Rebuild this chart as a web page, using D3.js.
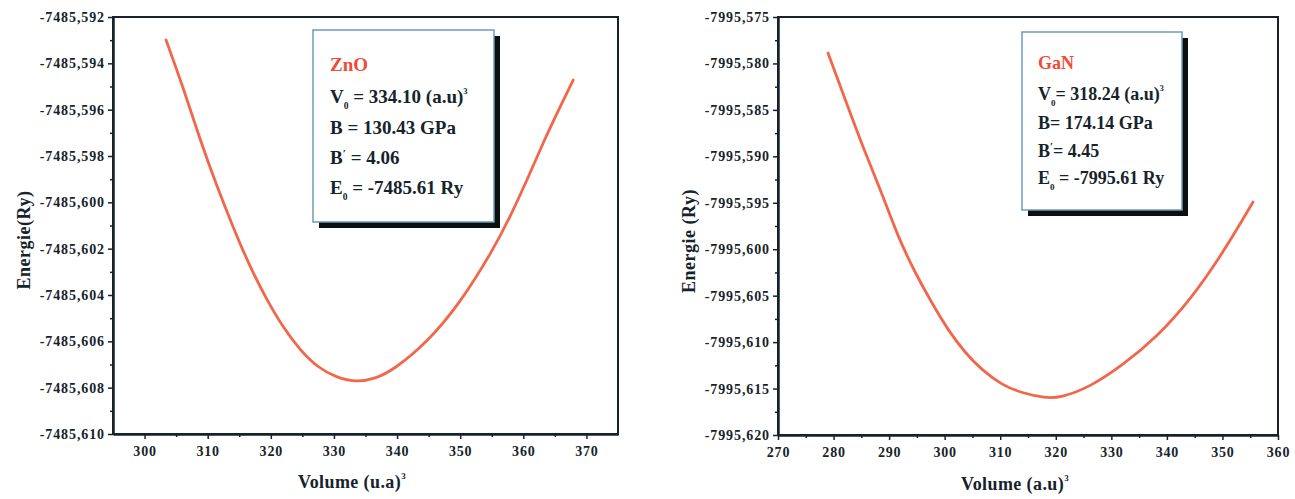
<!DOCTYPE html>
<html>
<head>
<meta charset="utf-8">
<script src="https://cdn.jsdelivr.net/npm/d3@7"></script>
<style>
  html, body { margin: 0; padding: 0; background: #fff; }
  svg { display: block; }
  text { font-family: "Liberation Serif", "DejaVu Serif", serif; font-weight: bold; }
</style>
</head>
<body>
<div id="chart"></div>
<script>
// E(V) curves for ZnO and GaN
const znoVolume = [303.4, 306.1, 308.8, 311.5, 314.0, 316.7, 319.4, 321.9, 324.6, 327.3, 330.5, 333.7, 336.5,
  339.4, 344.7, 350.0, 355.2, 357.9, 360.6, 363.1, 365.8, 367.9];
const znoEnergy = [-7485.59299, -7485.59502, -7485.59731, -7485.59934, -7485.60106, -7485.60279, -7485.60422,
  -7485.60538, -7485.60637, -7485.60711, -7485.60758, -7485.60776, -7485.60762, -7485.60724, -7485.60607,
  -7485.60435, -7485.60206, -7485.60063, -7485.59904, -7485.59744, -7485.59589, -7485.59472];

const ganVolume = [279.0, 282.6, 285.7, 288.7, 291.6, 294.7, 297.7, 300.6, 303.7, 306.7, 310.3, 313.9, 318.1,
  320.8, 326.2, 332.1, 338.2, 344.2, 350.1, 355.5];
const ganEnergy = [-7995.57888, -7995.58469, -7995.58964, -7995.59395, -7995.59868, -7995.60256, -7995.60579,
  -7995.60870, -7995.61117, -7995.61300, -7995.61462, -7995.61548, -7995.61602, -7995.61600, -7995.61483,
  -7995.61246, -7995.60945, -7995.60547, -7995.60041, -7995.59492];

const znoXTicks = [300, 310, 320, 330, 340, 350, 360, 370];
const znoYTicks = [-7485.610, -7485.608, -7485.606, -7485.604, -7485.602, -7485.600, -7485.598, -7485.596,
  -7485.594, -7485.592];
const ganXTicks = [270, 280, 290, 300, 310, 320, 330, 340, 350, 360];
const ganYTicks = [-7995.620, -7995.615, -7995.610, -7995.605, -7995.600, -7995.595, -7995.590, -7995.585,
  -7995.580, -7995.575];

const znoLegend = ["ZnO", "334.10", "130.43", "4.06", "-7485.61"];
const ganLegend = ["GaN", "318.24", "174.14", "4.45", "-7995.61"];

const width = 1295;
const height = 499;
const curveColor = "#f2674c";
const ink = "#16232b";
const serif = "Liberation Serif, DejaVu Serif, serif";

const svg = d3.select("#chart").append("svg")
  .attr("width", width)
  .attr("height", height);

const fmtY = (d) => d.toFixed(3).replace(".", ",");

const panels = [
  {
    box: { x0: 113, x1: 618, y0: 17, y1: 434 },
    xDomain: [295, 375], yDomain: [-7485.610, -7485.592],
    xTicks: znoXTicks, yTicks: znoYTicks,
    points: znoVolume.map((v, i) => [v, znoEnergy[i]]),
    yLabel: "Energie(Ry)", yLabelPos: [30, 240],
    xLabel: "Volume (u.a)", xLabelPos: [352, 488],
    legend: znoLegend, sep: " = ",
    legendBox: { x: 313, y: 30, w: 181, h: 192 }, textX: 330,
    lines: [71, 103, 134, 164, 194], fontSize: 19,
  },
  {
    box: { x0: 778, x1: 1278, y0: 17, y1: 435 },
    xDomain: [270, 360], yDomain: [-7995.620, -7995.575],
    xTicks: ganXTicks, yTicks: ganYTicks,
    points: ganVolume.map((v, i) => [v, ganEnergy[i]]),
    yLabel: "Energie (Ry)", yLabelPos: [695, 241],
    xLabel: "Volume (a.u)", xLabelPos: [1015, 490],
    legend: ganLegend, sep: "= ",
    legendBox: { x: 1022, y: 32, w: 160, h: 178 }, textX: 1038,
    lines: [69, 100, 129, 157, 184], fontSize: 18,
  },
];

panels.forEach((p) => {
  const x = d3.scaleLinear().domain(p.xDomain).range([p.box.x0, p.box.x1]);
  const y = d3.scaleLinear().domain(p.yDomain).range([p.box.y1, p.box.y0]);
  const g = svg.append("g");

  // frame
  g.append("rect")
    .attr("x", p.box.x0).attr("y", p.box.y0)
    .attr("width", p.box.x1 - p.box.x0).attr("height", p.box.y1 - p.box.y0)
    .attr("fill", "#fff").attr("stroke", ink).attr("stroke-width", 2);

  // minor ticks
  const xStep = p.xTicks[1] - p.xTicks[0];
  const yStep = p.yTicks[1] - p.yTicks[0];
  const xMinor = p.xTicks.map((t) => t + xStep / 2).filter((t) => t < p.xDomain[1]);
  if (p.xTicks[0] - xStep / 2 > p.xDomain[0]) xMinor.unshift(p.xTicks[0] - xStep / 2);
  const yMinor = p.yTicks.slice(0, -1).map((t) => t + yStep / 2);

  g.append("g").attr("transform", `translate(0,${p.box.y1})`)
    .call(d3.axisBottom(x).tickValues(xMinor).tickSize(3).tickFormat(""))
    .call((a) => a.select(".domain").remove())
    .selectAll("line").attr("stroke", ink).attr("stroke-width", 1.5);
  g.append("g").attr("transform", `translate(${p.box.x0},0)`)
    .call(d3.axisLeft(y).tickValues(yMinor).tickSize(3).tickFormat(""))
    .call((a) => a.select(".domain").remove())
    .selectAll("line").attr("stroke", ink).attr("stroke-width", 1.5);

  // major axes
  const xAxis = g.append("g").attr("transform", `translate(0,${p.box.y1})`)
    .call(d3.axisBottom(x).tickValues(p.xTicks).tickSize(5).tickPadding(7).tickSizeOuter(0));
  xAxis.select(".domain").attr("stroke", ink).attr("stroke-width", 2.5);
  xAxis.selectAll("line").attr("stroke", ink).attr("stroke-width", 1.5);
  xAxis.selectAll("text").attr("fill", ink).attr("font-size", 14).attr("letter-spacing", 0.8)
    .attr("font-family", serif).attr("font-weight", "bold");

  const yAxis = g.append("g").attr("transform", `translate(${p.box.x0},0)`)
    .call(d3.axisLeft(y).tickValues(p.yTicks).tickFormat(fmtY).tickSize(5).tickPadding(3).tickSizeOuter(0));
  yAxis.select(".domain").attr("stroke", ink).attr("stroke-width", 2.5);
  yAxis.selectAll("line").attr("stroke", ink).attr("stroke-width", 1.5);
  yAxis.selectAll("text").attr("fill", ink).attr("font-size", 14).attr("letter-spacing", 0.9)
    .attr("font-family", serif).attr("font-weight", "bold");

  // curve
  const line = d3.line().x((d) => x(d[0])).y((d) => y(d[1])).curve(d3.curveBasis);
  g.append("path")
    .datum(p.points)
    .attr("d", line)
    .attr("fill", "none")
    .attr("stroke", curveColor)
    .attr("stroke-width", 2.8)
    .attr("stroke-linecap", "round");

  // axis titles
  g.append("text")
    .attr("transform", `translate(${p.yLabelPos[0]},${p.yLabelPos[1]}) rotate(-90)`)
    .attr("text-anchor", "middle")
    .attr("font-size", 18).attr("letter-spacing", 0.5)
    .attr("fill", ink)
    .text(p.yLabel);

  const xl = g.append("text")
    .attr("x", p.xLabelPos[0]).attr("y", p.xLabelPos[1])
    .attr("text-anchor", "middle")
    .attr("font-size", 18).attr("letter-spacing", 0.4)
    .attr("fill", ink);
  xl.append("tspan").text(p.xLabel);
  xl.append("tspan").attr("dy", -9).attr("font-size", 9).text("3");

  // legend box with drop shadow
  const lb = p.legendBox;
  g.append("rect")
    .attr("x", lb.x + 6).attr("y", lb.y + 6).attr("width", lb.w).attr("height", lb.h)
    .attr("fill", "#0b0f12");
  g.append("rect")
    .attr("x", lb.x).attr("y", lb.y).attr("width", lb.w).attr("height", lb.h)
    .attr("fill", "#fff").attr("stroke", "#6d9cb4").attr("stroke-width", 1.5);

  const fs = p.fontSize;
  const t = (i) => g.append("text")
    .attr("x", p.textX).attr("y", p.lines[i])
    .attr("font-size", fs).attr("fill", ink);

  t(0).attr("fill", "#ef4b37").text(p.legend[0]);

  const l1 = t(1);
  l1.append("tspan").text("V");
  l1.append("tspan").attr("dy", 6).attr("font-size", fs * 0.5).text("0");
  l1.append("tspan").attr("dy", -6).text(`${p.sep}${p.legend[1]} (a.u)`);
  l1.append("tspan").attr("dy", -9).attr("font-size", fs * 0.45).text("3");

  t(2).text(`B${p.sep}${p.legend[2]} GPa`);

  const l3 = t(3);
  l3.append("tspan").text("B");
  l3.append("tspan").attr("dy", -7).attr("font-size", fs * 0.6).text("′");
  l3.append("tspan").attr("dy", 7).text(`${p.sep}${p.legend[3]}`);

  const l4 = t(4);
  l4.append("tspan").text("E");
  l4.append("tspan").attr("dy", 6).attr("font-size", fs * 0.5).text("0");
  l4.append("tspan").attr("dy", -6).text(` = ${p.legend[4]} Ry`);
});
</script>
</body>
</html>
